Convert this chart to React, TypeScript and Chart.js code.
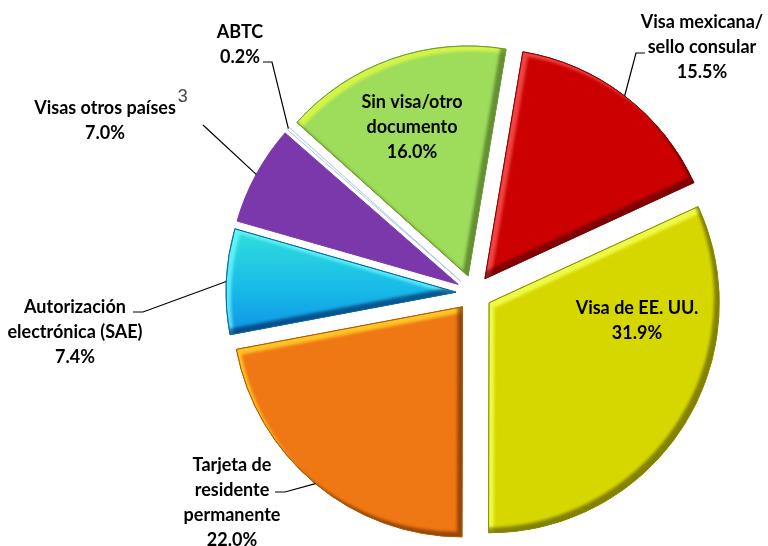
import React, { useEffect, useRef } from "react";
import { Chart, registerables } from "chart.js";

Chart.register(...registerables);

// ---- data ----
const categories = [
  "Visa mexicana/sello consular",
  "Visa de EE. UU.",
  "Tarjeta de residente permanente",
  "Autorización electrónica (SAE)",
  "Visas otros países",
  "ABTC",
  "Sin visa/otro documento",
];
const values = [15.5, 31.9, 22.0, 7.4, 7.0, 0.2, 16.0];
const labelLines = [
  ["Visa mexicana/", "sello consular"],
  ["Visa de EE. UU."],
  ["Tarjeta de", "residente", "permanente"],
  ["Autorización", "electrónica (SAE)"],
  ["Visas otros países"],
  ["ABTC"],
  ["Sin visa/otro", "documento"],
];
const sliceColors = ["#CC0000", "#D7D700", "#F07814", "#18B8E8", "#7A38AA", "#FFFFFF", "#9EDC5C"];
const borderColors = ["#8A0000", "#8E8E00", "#B05A00", "#0A6AA8", "#7A38AA", "#A8C4EA", "#6E9E34"];
const highlightColors = [
  "rgba(255,90,90,0.75)",
  "rgba(240,255,80,0.9)",
  "rgba(255,205,40,0.9)",
  "rgba(120,255,255,0.7)",
  null,
  null,
  "rgba(215,245,70,0.95)",
];
const shadowColors = [
  "rgba(60,0,0,0.55)",
  "rgba(60,60,0,0.55)",
  "rgba(80,30,0,0.55)",
  "rgba(0,30,80,0.6)",
  null,
  null,
  "rgba(40,70,10,0.5)",
];

// ---- layout (text placement) ----
type LabelPos = { x: number; y: number; line?: number[][] };
const labelPos: LabelPos[] = [
  { x: 702, y: 22, line: [[645, 53], [636, 53]] },
  { x: 637, y: 308 },
  { x: 232, y: 465, line: [[275, 492], [285, 492]] },
  { x: 75, y: 307, line: [[133, 312], [143, 312]] },
  { x: 105, y: 108, line: [[203, 125]] },
  { x: 240, y: 32, line: [[263, 62], [272, 62]] },
  { x: 412, y: 102 },
];
const EXPLODE = 18;
const RADIUS = 230;
const LINE_H = 25;
const FONT = 'bold 18px Lato, "Liberation Sans", sans-serif';

function slicePath(ctx: CanvasRenderingContext2D, x: number, y: number, r: number, a0: number, a1: number) {
  ctx.moveTo(x, y);
  ctx.arc(x, y, r, a0, a1);
  ctx.closePath();
}

const explodePlugin = {
  id: "explode",
  afterDatasetsUpdate(chart: any) {
    const meta = chart.getDatasetMeta(0);
    meta.data.forEach((el: any) => {
      const mid = (el.startAngle + el.endAngle) / 2;
      el.x += Math.cos(mid) * EXPLODE;
      el.y += Math.sin(mid) * EXPLODE;
    });
  },
};

const bevelPlugin = {
  id: "bevel",
  afterDatasetsDraw(chart: any) {
    const ctx: CanvasRenderingContext2D = chart.ctx;
    const meta = chart.getDatasetMeta(0);
    const d = 5;
    meta.data.forEach((el: any, i: number) => {
      const hl = highlightColors[i];
      const sh = shadowColors[i];
      if (!hl || !sh) return;
      const { x, y, outerRadius: r, startAngle: a0, endAngle: a1 } = el;
      ctx.save();
      ctx.beginPath();
      slicePath(ctx, x, y, r, a0, a1);
      ctx.clip();
      (ctx as any).filter = "blur(1.5px)";
      ctx.beginPath();
      ctx.rect(x - r - 60, y - r - 60, 2 * r + 120, 2 * r + 120);
      slicePath(ctx, x + d, y + d, r, a0, a1);
      ctx.fillStyle = hl;
      ctx.fill("evenodd");
      ctx.beginPath();
      ctx.rect(x - r - 60, y - r - 60, 2 * r + 120, 2 * r + 120);
      slicePath(ctx, x - d, y - d, r, a0, a1);
      ctx.fillStyle = sh;
      ctx.fill("evenodd");
      ctx.restore();
      ctx.save();
      ctx.beginPath();
      slicePath(ctx, x, y, r, a0, a1);
      ctx.strokeStyle = borderColors[i];
      ctx.lineWidth = 1;
      ctx.stroke();
      ctx.restore();
    });
  },
};

const labelPlugin = {
  id: "labels",
  afterDraw(chart: any) {
    const ctx: CanvasRenderingContext2D = chart.ctx;
    const meta = chart.getDatasetMeta(0);
    ctx.save();
    ctx.font = FONT;
    ctx.fillStyle = "#000000";
    ctx.textAlign = "center";
    ctx.textBaseline = "middle";
    meta.data.forEach((el: any, i: number) => {
      const p = labelPos[i];
      const lines = [...labelLines[i], `${values[i].toFixed(1)}%`];
      lines.forEach((t, k) => ctx.fillText(t, p.x, p.y + k * LINE_H));
      if (p.line) {
        const mid = (el.startAngle + el.endAngle) / 2;
        const ex = el.x + Math.cos(mid) * el.outerRadius;
        const ey = el.y + Math.sin(mid) * el.outerRadius;
        ctx.beginPath();
        ctx.moveTo(p.line[0][0], p.line[0][1]);
        for (let k = 1; k < p.line.length; k++) ctx.lineTo(p.line[k][0], p.line[k][1]);
        ctx.lineTo(ex, ey);
        ctx.strokeStyle = "#000000";
        ctx.lineWidth = 1.2;
        ctx.stroke();
      }
      if (i === 4) {
        const w = ctx.measureText(labelLines[i][0]).width;
        ctx.save();
        ctx.font = '18px "Liberation Sans", sans-serif';
        ctx.fillStyle = "#444444";
        ctx.textAlign = "left";
        ctx.fillText("3", p.x + w / 2 + 2, p.y - 11);
        ctx.restore();
      }
    });
    ctx.restore();
  },
};

export default function App() {
  const ref = useRef<HTMLCanvasElement | null>(null);
  useEffect(() => {
    if (!ref.current) return;
    const chart = new Chart(ref.current, {
      type: "pie",
      data: {
        labels: categories,
        datasets: [
          {
            data: values,
            backgroundColor: (c: any) => {
              const i = c.dataIndex;
              if (i === 3 && c.chart.chartArea) {
                const a = c.chart.chartArea;
                const cy = (a.top + a.bottom) / 2;
                const g = c.chart.ctx.createLinearGradient(0, cy - 62, 0, cy + 50);
                g.addColorStop(0, "#30DEDC");
                g.addColorStop(0.5, "#18BCE8");
                g.addColorStop(1, "#0C8CE6");
                return g;
              }
              return sliceColors[i];
            },
            borderColor: borderColors,
            borderWidth: 1,
            hoverOffset: 0,
            offset: 0,
            clip: false as any,
          },
        ],
      },
      options: {
        animation: false,
        responsive: true,
        maintainAspectRatio: false,
        rotation: 9.5,
        radius: RADIUS,
        layout: { padding: { left: 190, right: 10, top: 40, bottom: 0 } },
        plugins: { legend: { display: false }, tooltip: { enabled: false } },
        events: [],
      } as any,
      plugins: [explodePlugin, bevelPlugin, labelPlugin],
    });
    return () => chart.destroy();
  }, []);
  return (
    <div style={{ position: "absolute", left: 0, top: 0, width: 768, height: 546, background: "#fff" }}>
      <canvas ref={ref} />
    </div>
  );
}
